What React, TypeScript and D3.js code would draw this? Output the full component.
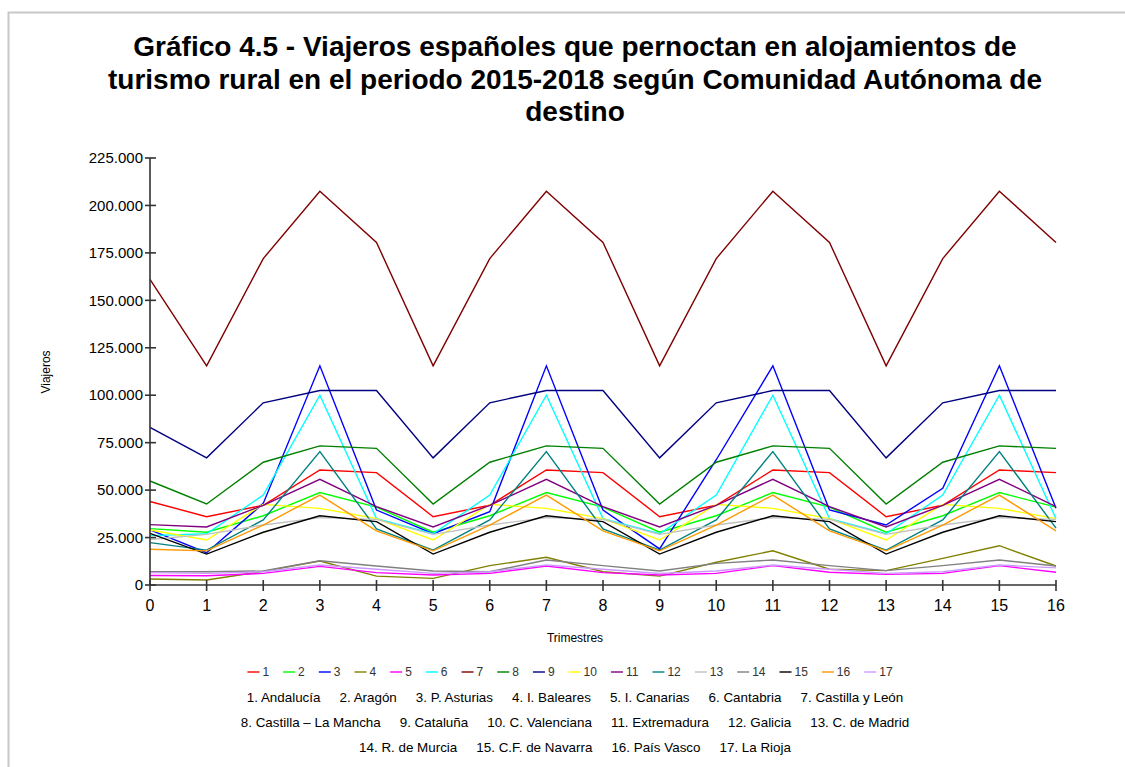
import React, { useEffect, useRef } from "react";
import * as d3 from "d3";

const quarters: number[] = d3.range(0, 17);
const yTicks: number[] = [0, 25000, 50000, 75000, 100000, 125000, 150000, 175000, 200000, 225000];

const seriesNames: string[] = ["1", "2", "3", "4", "5", "6", "7", "8", "9", "10", "11", "12", "13", "14", "15", "16", "17"];
const regionLabels: string[] = [
  "1. Andalucía", "2. Aragón", "3. P. Asturias", "4. I. Baleares", "5. I. Canarias", "6. Cantabria", "7. Castilla y León",
  "8. Castilla – La Mancha", "9. Cataluña", "10. C. Valenciana", "11. Extremadura", "12. Galicia", "13. C. de Madrid",
  "14. R. de Murcia", "15. C.F. de Navarra", "16. País Vasco", "17. La Rioja",
];
const legendRows: number[][] = [[0, 1, 2, 3, 4, 5, 6], [7, 8, 9, 10, 11, 12], [13, 14, 15, 16]];

const andalucia = [44000, 36000, 42000, 60600, 59200, 36000, 42000, 60600, 59200, 36000, 42000, 60600, 59200, 36000, 42000, 60600, 59200];
const aragon = [29700, 27800, 36500, 48700, 41000, 27800, 36500, 48700, 41000, 27800, 36500, 48700, 41000, 27800, 36500, 48700, 41000];
const asturias = [29000, 17000, 43000, 115500, 39500, 27000, 38600, 115500, 39500, 19000, 66000, 115500, 39500, 31600, 51000, 115500, 40400];
const baleares = [3200, 2600, 7200, 12600, 4700, 3500, 10200, 14600, 7000, 4700, 12000, 18000, 8300, 7600, 14000, 20700, 10000];
const canarias = [5000, 4900, 6100, 9800, 6500, 5300, 6100, 10000, 6500, 5300, 6100, 10200, 6700, 5600, 6100, 10200, 6700];
const cantabria = [26000, 27000, 47400, 100000, 35000, 27000, 47400, 100000, 35000, 27000, 47400, 100000, 35000, 27000, 47400, 100000, 35000];
const castillaLeon = [161000, 115500, 172000, 207500, 180500, 115500, 172000, 207500, 180500, 115500, 172000, 207500, 180500, 115500, 172000, 207500, 180500];
const castillaMancha = [54800, 42700, 64700, 73300, 72000, 42700, 64700, 73300, 72000, 42700, 64700, 73300, 72000, 42700, 64700, 73300, 72000];
const cataluna = [83000, 67000, 96000, 102500, 102500, 67000, 96000, 102500, 102500, 67000, 96000, 102500, 102500, 67000, 96000, 102500, 102500];
const valenciana = [29000, 23700, 42500, 40400, 35000, 23700, 42500, 40400, 35000, 23700, 42500, 40400, 35000, 23700, 42500, 40400, 35000];
const extremadura = [31800, 30600, 42000, 55700, 41300, 30600, 42000, 55700, 41300, 30600, 42000, 55700, 41300, 30600, 42000, 55700, 41300];
const galicia = [22300, 18400, 34300, 70300, 29500, 18400, 34300, 70300, 29500, 18400, 34300, 70300, 29500, 18400, 34300, 70300, 30000];
const madrid = [24000, 26700, 31600, 35500, 34600, 26700, 31600, 35500, 34600, 26700, 31600, 35500, 34600, 26700, 31600, 35500, 34600];
const murcia = [7000, 7000, 7400, 12800, 10000, 7400, 7000, 13200, 10200, 7400, 11400, 13200, 10200, 7600, 10200, 13200, 10000];
const navarra = [27200, 16300, 27800, 36500, 33400, 16300, 27800, 36500, 33400, 16300, 27800, 36500, 33400, 16300, 27800, 36500, 33400];
const paisVasco = [18800, 18000, 31600, 47400, 28500, 18000, 31600, 47400, 28500, 18000, 31600, 47400, 28500, 18000, 31600, 47400, 28500];
const rioja = [6500, 6100, 7000, 10500, 8300, 6100, 7000, 10500, 8300, 6100, 7400, 10500, 8300, 6100, 7000, 10500, 9000];

const seriesValues: number[][] = [
  andalucia, aragon, asturias, baleares, canarias, cantabria, castillaLeon, castillaMancha, cataluna,
  valenciana, extremadura, galicia, madrid, murcia, navarra, paisVasco, rioja,
];
const seriesColors: string[] = [
  "#ff0000", "#00ff00", "#0000ff", "#808000", "#ff00ff", "#00ffff", "#800000", "#008000", "#000080",
  "#ffff00", "#800080", "#008080", "#c0c0c0", "#808080", "#000000", "#ff9900", "#cc99ff",
];

const titleLines: string[] = [
  "Gráfico 4.5 - Viajeros españoles que pernoctan en alojamientos de",
  "turismo rural en el periodo 2015-2018 según Comunidad Autónoma de",
  "destino",
];

const W = 1125;
const H = 767;
const FONT = "'Liberation Sans', Arial, sans-serif";

export default function App() {
  const ref = useRef<SVGSVGElement | null>(null);

  useEffect(() => {
    const svg = d3.select(ref.current);
    svg.selectAll("*").remove();

    const x = d3.scaleLinear().domain([0, 16]).range([150, 1056]);
    const y = d3.scaleLinear().domain([0, 225000]).range([585, 158]);
    const fmt = (v: number) => d3.format(",")(v).replace(/,/g, ".");

    // frame
    svg.append("rect").attr("x", 8.5).attr("y", 12.5).attr("width", 1200).attr("height", 900)
      .attr("fill", "#fff").attr("stroke", "#c8c8c8").attr("stroke-width", 2);

    // title
    svg.append("g").selectAll("text").data(titleLines).join("text")
      .attr("x", 575).attr("y", (_d, i) => 56 + i * 32.5)
      .attr("text-anchor", "middle").attr("font-family", FONT).attr("font-weight", "bold")
      .attr("font-size", 28).attr("fill", "#000").text((d) => d);

    // lines
    const line = d3.line<number>().x((_d, i) => x(quarters[i])).y((d) => y(d));
    svg.append("g").selectAll("path").data(seriesValues).join("path")
      .attr("d", (d) => line(d)).attr("fill", "none")
      .attr("stroke", (_d, i) => seriesColors[i]).attr("stroke-width", 1.4)
      .attr("stroke-linejoin", "miter");

    // y axis
    const ya = svg.append("g");
    ya.append("line").attr("x1", 150).attr("x2", 150).attr("y1", y(225000)).attr("y2", y(0))
      .attr("stroke", "#333").attr("stroke-width", 1.6);
    ya.selectAll("line.t").data(yTicks).join("line").attr("class", "t")
      .attr("x1", 145).attr("x2", 156).attr("y1", (d) => y(d)).attr("y2", (d) => y(d))
      .attr("stroke", "#333").attr("stroke-width", 1.6);
    ya.selectAll("text").data(yTicks).join("text")
      .attr("x", 143).attr("y", (d) => y(d)).attr("dy", "0.35em").attr("text-anchor", "end")
      .attr("font-family", FONT).attr("font-size", 15).attr("fill", "#000").text((d) => fmt(d));

    // x axis
    const xa = svg.append("g");
    xa.append("line").attr("x1", x(0)).attr("x2", x(16)).attr("y1", 585).attr("y2", 585)
      .attr("stroke", "#333").attr("stroke-width", 1.6);
    xa.selectAll("line.t").data(quarters).join("line").attr("class", "t")
      .attr("x1", (d) => x(d)).attr("x2", (d) => x(d)).attr("y1", 580).attr("y2", 591)
      .attr("stroke", "#333").attr("stroke-width", 1.6);
    xa.selectAll("text").data(quarters).join("text")
      .attr("x", (d) => x(d)).attr("y", 611).attr("text-anchor", "middle")
      .attr("font-family", FONT).attr("font-size", 16).attr("fill", "#000").text((d) => String(d));

    // axis titles
    svg.append("text").attr("x", 575).attr("y", 642).attr("text-anchor", "middle")
      .attr("font-family", FONT).attr("font-size", 12).text("Trimestres");
    svg.append("text").attr("transform", "translate(50,372) rotate(-90)").attr("text-anchor", "middle")
      .attr("font-family", FONT).attr("font-size", 12).text("Viajeros");

    // legend (line samples)
    const lg = svg.append("g");
    const items = seriesNames.map((name, i) => {
      const g = lg.append("g");
      g.append("line").attr("x1", 0).attr("x2", 12).attr("y1", 0).attr("y2", 0)
        .attr("stroke", seriesColors[i]).attr("stroke-width", 2).attr("stroke-opacity", 0.7);
      const t = g.append("text").attr("x", 15).attr("y", 0).attr("dy", "0.35em")
        .attr("font-family", FONT).attr("font-size", 12).attr("fill", "#333").text(name);
      const w = 15 + (t.node() as SVGTextElement).getComputedTextLength();
      return { g, w };
    });
    const gap = 14;
    const total = d3.sum(items, (d) => d.w) + gap * (items.length - 1);
    let cx = 570 - total / 2;
    items.forEach((it) => {
      it.g.attr("transform", `translate(${cx},672)`);
      cx += it.w + gap;
    });

    // legend (region names)
    legendRows.forEach((row, r) => {
      const rg = svg.append("g");
      const texts = row.map((idx) => {
        const t = rg.append("text").attr("y", 697 + r * 25).attr("dy", "0.35em")
          .attr("font-family", FONT).attr("font-size", 13.4).attr("fill", "#000").text(regionLabels[idx]);
        return { t, w: (t.node() as SVGTextElement).getComputedTextLength() };
      });
      const g2 = 19;
      const tot = d3.sum(texts, (d) => d.w) + g2 * (texts.length - 1);
      let px = 575 - tot / 2;
      texts.forEach((it) => {
        it.t.attr("x", px);
        px += it.w + g2;
      });
    });
  }, []);

  return (
    <svg ref={ref} width={W} height={H}
      style={{ position: "absolute", left: 0, top: 0, display: "block", background: "#fff" }} />
  );
}
